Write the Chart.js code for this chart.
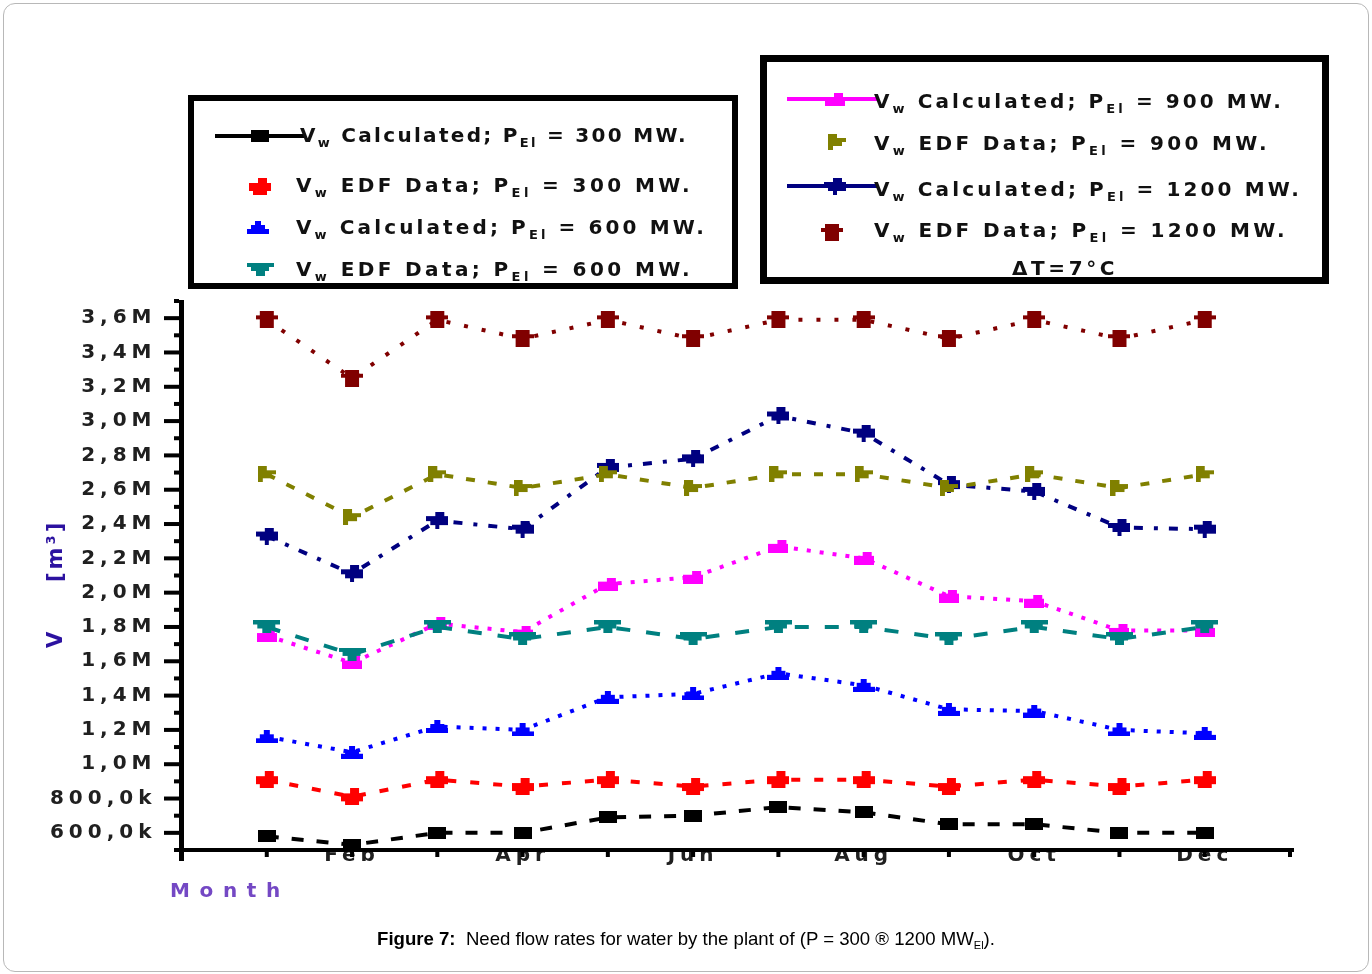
<!DOCTYPE html>
<html>
<head>
<meta charset="utf-8">
<title>Need flow rates for water</title>
<script src="https://cdn.jsdelivr.net/npm/chart.js@4.4.0/dist/chart.umd.min.js"></script>
<style>
  html, body { margin: 0; padding: 0; background: #fff; }
  #wrap { position: relative; width: 1372px; height: 974px; overflow: hidden; }
  #frame { position: absolute; left: 3px; top: 3px; width: 1364px; height: 967px;
           border: 1px solid #b8b8b8; border-radius: 12px; }
  #cv { position: absolute; left: 0; top: 0; }
  #caption { position: absolute; left: 0; top: 928px; width: 1372px; text-align: center;
             font: 18.6px "Liberation Sans", Arial, sans-serif; color: #000; }
  #caption sub { font-size: 11px; vertical-align: -4px; line-height: 0; }
</style>
</head>
<body>
<div id="wrap">
  <div id="frame"></div>
  <canvas id="cv" width="1372" height="974"></canvas>
  <div id="caption"><b>Figure 7:</b>&nbsp; Need flow rates for water by the plant of (P = 300 ® 1200 MW<sub>El</sub>).</div>
</div>
<script>
// Months on the x axis (only even months are labelled)
const months = ['Jan', 'Feb', 'Mar', 'Apr', 'May', 'Jun', 'Jul', 'Aug', 'Sep', 'Oct', 'Nov', 'Dec'];

// Water flow rates, millions of m³
const calc300  = [0.58, 0.53, 0.60, 0.60, 0.69, 0.70, 0.75, 0.72, 0.65, 0.65, 0.60, 0.60];
const edf300   = [0.91, 0.81, 0.91, 0.87, 0.91, 0.87, 0.91, 0.91, 0.87, 0.91, 0.87, 0.91];
const calc600  = [1.16, 1.07, 1.22, 1.20, 1.39, 1.41, 1.53, 1.46, 1.32, 1.31, 1.20, 1.18];
const edf600   = [1.80, 1.64, 1.80, 1.73, 1.80, 1.73, 1.80, 1.80, 1.73, 1.80, 1.73, 1.80];
const calc900  = [1.75, 1.59, 1.82, 1.77, 2.05, 2.09, 2.27, 2.20, 1.98, 1.95, 1.78, 1.78];
const edf900   = [2.69, 2.44, 2.69, 2.61, 2.69, 2.61, 2.69, 2.69, 2.61, 2.69, 2.61, 2.69];
const calc1200 = [2.33, 2.11, 2.42, 2.37, 2.73, 2.78, 3.03, 2.93, 2.63, 2.59, 2.38, 2.37];
const edf1200  = [3.59, 3.25, 3.59, 3.48, 3.59, 3.48, 3.59, 3.59, 3.48, 3.59, 3.48, 3.59];

// Series names ("_xx" marks a subscript)
const seriesLabels = [
  'V_w Calculated; P_El = 300 MW.',
  'V_w EDF Data; P_El = 300 MW.',
  'V_w Calculated; P_El = 600 MW.',
  'V_w EDF Data; P_El = 600 MW.',
  'V_w Calculated; P_El = 900 MW.',
  'V_w EDF Data; P_El = 900 MW.',
  'V_w Calculated; P_El = 1200 MW.',
  'V_w EDF Data; P_El = 1200 MW.'
];
const noteText = 'ΔT=7°C';
const yTitle = ['V', '[m³]'];
const xTitle = 'Month';

const seriesValues = [calc300, edf300, calc600, edf600, calc900, edf900, calc1200, edf1200];
const seriesColors = ['#000000', '#ff0000', '#0000ff', '#008080', '#ff00ff', '#808000', '#000080', '#800000'];
const seriesDash = [[12, 13], [9, 14], [4, 9], [14, 16], [4, 9], [9, 13], [9, 11, 4, 11], [4, 14]];

// Blocky marker glyphs built from rectangles: [w, h, rects]
const markerShapes = [
  [18, 12, [[0, 0, 18, 12]]],                                        // square
  [22, 17, [[9, 0, 9, 5], [0, 5, 22, 8], [4, 13, 14, 4]]],          // blob
  [22, 13, [[8, 0, 6, 4], [4, 4, 14, 4], [0, 8, 22, 5]]],           // up triangle
  [27, 13, [[0, 0, 27, 4], [4, 4, 18, 4], [9, 8, 9, 5]]],           // down triangle
  [20, 13, [[9, 0, 9, 4], [0, 4, 20, 9]]],                          // plus blob
  [18, 16, [[0, 0, 9, 4], [0, 4, 18, 4], [0, 8, 14, 4], [0, 12, 5, 4]]], // flag
  [22, 17, [[9, 0, 9, 4], [0, 4, 22, 5], [4, 9, 18, 4], [9, 13, 4, 4]]], // star blob
  [22, 17, [[4, 0, 14, 4], [0, 4, 22, 4], [4, 8, 14, 9]]]           // block
];

function makeMarker(color, shape) {
  const [w, h, rects] = shape;
  const c = document.createElement('canvas');
  c.width = w; c.height = h;
  const g = c.getContext('2d');
  g.fillStyle = color;
  rects.forEach(r => g.fillRect(r[0], r[1], r[2], r[3]));
  return c;
}
const markers = seriesColors.map((col, i) => makeMarker(col, markerShapes[i]));

const datasets = seriesValues.map((vals, i) => ({
  label: seriesLabels[i],
  data: vals.map((v, k) => ({ x: k + 1, y: v })),
  borderColor: seriesColors[i],
  backgroundColor: seriesColors[i],
  borderWidth: 4,
  borderDash: seriesDash[i],
  borderCapStyle: 'butt',
  pointStyle: markers[i],
  pointRadius: 8,
  tension: 0,
  fill: false,
  clip: false
}));

const TICK_FONT = { family: 'DejaVu Sans', size: 20, weight: 'bold' };
const LABEL_FONT = 'bold 20px "DejaVu Sans"';
const SUB_FONT = 'bold 13px "DejaVu Sans"';

function fmtTick(v) {
  const t = Math.round(v * 10);
  if (t % 2 !== 0) return '';
  if (t >= 10) return (t / 10).toFixed(1).replace('.', ',') + 'M';
  return (t * 100).toFixed(1).replace('.', ',') + 'k';
}

// Draws a label with "_sub" parts, spreading letters to span [x, right]
function drawSpread(ctx, label, x, base, right, font, subFont, color) {
  const parts = label.split(/(_\S+?)(?=\s|$)/).filter(s => s.length);
  const segs = parts.map(p => p.startsWith('_') ? { t: p.slice(1), sub: true } : { t: p, sub: false });
  ctx.save();
  ctx.letterSpacing = '0px';
  let natural = 0, count = 0;
  segs.forEach(s => {
    ctx.font = s.sub ? subFont : font;
    s.w = ctx.measureText(s.t).width;
    natural += s.w; count += s.t.length;
  });
  const sp = Math.max(0, (right - x - natural) / count);
  ctx.fillStyle = color;
  ctx.textBaseline = 'alphabetic';
  ctx.textAlign = 'left';
  ctx.letterSpacing = sp + 'px';
  let cx = x;
  segs.forEach(s => {
    ctx.font = s.sub ? subFont : font;
    ctx.fillText(s.t, cx, base + (s.sub ? 5 : 0));
    cx += s.w + sp * s.t.length;
  });
  ctx.restore();
}

// Axis lines and tick marks, drawn over the tick labels
const axesPlugin = {
  id: 'axesLines',
  beforeDraw(chart) { chart.ctx.letterSpacing = '5px'; },
  afterDraw(chart) {
    const { ctx, scales: { x, y } } = chart;
    const x0 = x.getPixelForValue(0), x1 = x.getPixelForValue(13);
    const yb = y.getPixelForValue(0.5), yt = y.getPixelForValue(3.7);
    ctx.save();
    ctx.fillStyle = '#000';
    ctx.fillRect(x0 - 2.5, yt - 1, 5, yb + 12 - yt);
    ctx.fillRect(x0 - 7, yb - 2, x1 + 4 - (x0 - 7), 4);
    for (let t = 5; t <= 37; t++) {
      const py = y.getPixelForValue(t / 10);
      const len = t % 2 === 0 ? 15 : 5;
      ctx.fillRect(x0 - 2.5 - len, py - 2, len, 4);
    }
    for (let v = 1; v <= 13; v++) {
      const px = x.getPixelForValue(v);
      ctx.fillRect(px - 2, yb + 2, 4, 5);
    }
    ctx.restore();
  }
};

// Two boxed legends, axis titles and the temperature note
const legendLayout = [
  { box: [188, 95, 738, 289, 6], rows: [
    { ds: 0, line: [215, 305], mx: 260, my: 136, tx: 300, tr: 688, base: 142 },
    { ds: 1, mx: 260, my: 186, tx: 296, tr: 693, base: 192 },
    { ds: 2, mx: 258, my: 227, tx: 296, tr: 707, base: 234 },
    { ds: 3, mx: 260, my: 269, tx: 296, tr: 693, base: 276 }
  ]},
  { box: [760, 55, 1329, 284, 7], rows: [
    { ds: 4, line: [787, 877], mx: 835, my: 99, tx: 874, tr: 1284, base: 108 },
    { ds: 5, mx: 837, my: 142, tx: 874, tr: 1270, base: 150 },
    { ds: 6, line: [787, 877], mx: 835, my: 186, tx: 874, tr: 1302, base: 196 },
    { ds: 7, mx: 832, my: 232, tx: 874, tr: 1288, base: 237 }
  ]}
];

const legendPlugin = {
  id: 'boxedLegends',
  afterDraw(chart) {
    const ctx = chart.ctx;
    const ds = chart.data.datasets;
    ctx.save();
    ctx.letterSpacing = '0px';
    legendLayout.forEach(group => {
      const [l, t, r, b, lw] = group.box;
      ctx.strokeStyle = '#000';
      ctx.lineWidth = lw;
      ctx.strokeRect(l + lw / 2, t + lw / 2, r - l - lw, b - t - lw);
      group.rows.forEach(row => {
        const d = ds[row.ds];
        if (row.line) {
          ctx.fillStyle = d.borderColor;
          ctx.fillRect(row.line[0], row.my - 2, row.line[1] - row.line[0], 4);
        }
        const m = d.pointStyle;
        ctx.drawImage(m, Math.round(row.mx - m.width / 2), Math.round(row.my - m.height / 2));
        drawSpread(ctx, d.label, row.tx, row.base, row.tr, LABEL_FONT, SUB_FONT, '#111');
      });
    });
    drawSpread(ctx, noteText, 1012, 275, 1118, LABEL_FONT, SUB_FONT, '#111');

    // x axis title
    drawSpread(ctx, xTitle, 170, 897, 290, 'bold 20px "DejaVu Sans"', SUB_FONT, '#7448c4');

    // y axis title (rotated)
    ctx.save();
    ctx.translate(62, 648);
    ctx.rotate(-Math.PI / 2);
    ctx.fillStyle = '#2c12a0';
    ctx.font = 'bold 21px "DejaVu Sans"';
    ctx.textBaseline = 'alphabetic';
    ctx.fillText(yTitle[0], 0, 0);
    ctx.letterSpacing = '3px';
    ctx.fillText(yTitle[1], 66, 0);
    ctx.restore();
    ctx.restore();
  }
};

new Chart(document.getElementById('cv').getContext('2d'), {
  type: 'line',
  data: { datasets },
  options: {
    responsive: false,
    animation: false,
    devicePixelRatio: 1,
    layout: { padding: { left: 0, top: 301, right: 82, bottom: 94 } },
    plugins: { legend: { display: false }, tooltip: { enabled: false }, title: { display: false } },
    scales: {
      x: {
        type: 'linear', min: 0, max: 13,
        afterFit(s) { s.height = 30; },
        grid: { display: false, drawTicks: false },
        border: { display: false },
        ticks: {
          stepSize: 1, autoSkip: false, maxRotation: 0, padding: -6,
          font: TICK_FONT, color: '#202020',
          callback(v) { return (v % 2 === 0 && v >= 2 && v <= 12) ? months[v - 1] : ''; }
        }
      },
      y: {
        type: 'linear', min: 0.5, max: 3.7,
        afterFit(s) { s.width = 181.5; },
        grid: { display: false, drawTicks: false },
        border: { display: false },
        ticks: {
          stepSize: 0.1, autoSkip: false, padding: 25,
          font: TICK_FONT, color: '#202020',
          callback: fmtTick
        }
      }
    }
  },
  plugins: [axesPlugin, legendPlugin]
});
</script>
</body>
</html>
